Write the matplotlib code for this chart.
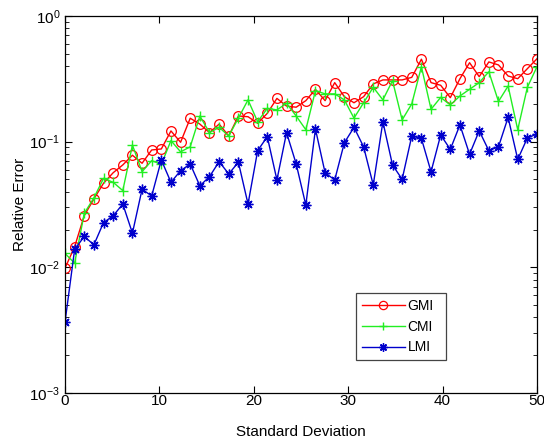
import numpy as np
import matplotlib
matplotlib.use("Agg")
import matplotlib.pyplot as plt
from matplotlib.ticker import LogLocator, NullFormatter

plt.rcParams['font.family'] = ['Liberation Sans', 'DejaVu Sans']
plt.rcParams['mathtext.fontset'] = 'custom'
plt.rcParams['mathtext.rm'] = 'Liberation Sans'
plt.rcParams['mathtext.it'] = 'Liberation Sans'

x = np.linspace(0, 50, 50)

gmi = [0.00984, 0.0146, 0.0258, 0.035, 0.0467, 0.0566, 0.0653, 0.078, 0.0673, 0.0859,
       0.0875, 0.1217, 0.0989, 0.1536, 0.138, 0.118, 0.138, 0.111, 0.160, 0.158,
       0.140, 0.168, 0.221, 0.192, 0.188, 0.212, 0.261, 0.212, 0.295, 0.228,
       0.204, 0.228, 0.288, 0.310, 0.310, 0.310, 0.325, 0.453, 0.295, 0.281,
       0.224, 0.317, 0.425, 0.329, 0.431, 0.408, 0.333, 0.317, 0.381, 0.457]

cmi = [0.0129, 0.0108, 0.0269, 0.0357, 0.051, 0.0475, 0.0408, 0.094, 0.0577, 0.0706,
       0.066, 0.102, 0.083, 0.091, 0.160, 0.118, 0.130, 0.111, 0.154, 0.215,
       0.144, 0.184, 0.179, 0.202, 0.160, 0.1245, 0.255, 0.240, 0.240, 0.215,
       0.154, 0.204, 0.271, 0.215, 0.306, 0.149, 0.200, 0.395, 0.181, 0.225,
       0.196, 0.231, 0.261, 0.295, 0.360, 0.209, 0.277, 0.1245, 0.271, 0.395]

lmi = [0.00366, 0.0139, 0.0176, 0.0151, 0.0227, 0.0257, 0.0319, 0.0187, 0.0418, 0.0370,
       0.0715, 0.0475, 0.0588, 0.0664, 0.0445, 0.0527, 0.0693, 0.0554, 0.0686, 0.0319,
       0.0848, 0.1096, 0.0496, 0.118, 0.0665, 0.0313, 0.126, 0.0566, 0.0496, 0.098,
       0.130, 0.091, 0.0452, 0.144, 0.0652, 0.0502, 0.111, 0.106, 0.0576, 0.113,
       0.0869, 0.136, 0.0794, 0.122, 0.0848, 0.091, 0.156, 0.0723, 0.107, 0.115]

labels = ['GMI', 'CMI', 'LMI']

fig = plt.figure(figsize=(5.44, 4.4), dpi=100)
ax = fig.add_axes([65/544, 1-393/440, (537-65)/544, (393-16)/440])

ax.plot(x, gmi, color='#ff0000', lw=1.0, marker='o', ms=7, mfc='none', mew=0.9, label=labels[0])
ax.plot(x, cmi, color='#22ee22', lw=1.0, marker='+', ms=7, mew=1.0, label=labels[1])
ax.plot(x, lmi, color='#0000cc', lw=1.0, marker=(8, 2, 0), ms=7, mew=1.0, label=labels[2])

ax.set_yscale('log')
ax.set_xlim(0, 50)
ax.set_ylim(1e-3, 1e0)
ax.set_xticks([0, 10, 20, 30, 40, 50])
ax.yaxis.set_major_locator(LogLocator(base=10, numticks=10))
ax.yaxis.set_minor_locator(LogLocator(base=10, subs=np.arange(2, 10), numticks=20))
ax.yaxis.set_minor_formatter(NullFormatter())
ax.tick_params(which='both', direction='in', top=True, right=True, labelsize=11)
ax.tick_params(axis='x', which='major', pad=1)
ax.tick_params(which='major', length=5, width=0.8)
ax.tick_params(which='minor', length=3, width=0.6)
for s in ax.spines.values():
    s.set_linewidth(0.9)

ax.set_xlabel('Standard Deviation', fontsize=11, labelpad=12)
ax.set_ylabel('Relative Error', fontsize=11, labelpad=2)

leg = ax.legend(loc='lower left',
                bbox_to_anchor=((356-65)/472, (393-360)/377, (446-356)/472, (360-293)/377),
                mode='expand', borderaxespad=0, fontsize=10, fancybox=False,
                edgecolor='#444444', framealpha=1, handlelength=3.1, handletextpad=0.2,
                markerscale=0.85, numpoints=1, borderpad=0.4, labelspacing=0.5)
leg.get_frame().set_linewidth(0.9)

fig.savefig('out.png', dpi=100)
